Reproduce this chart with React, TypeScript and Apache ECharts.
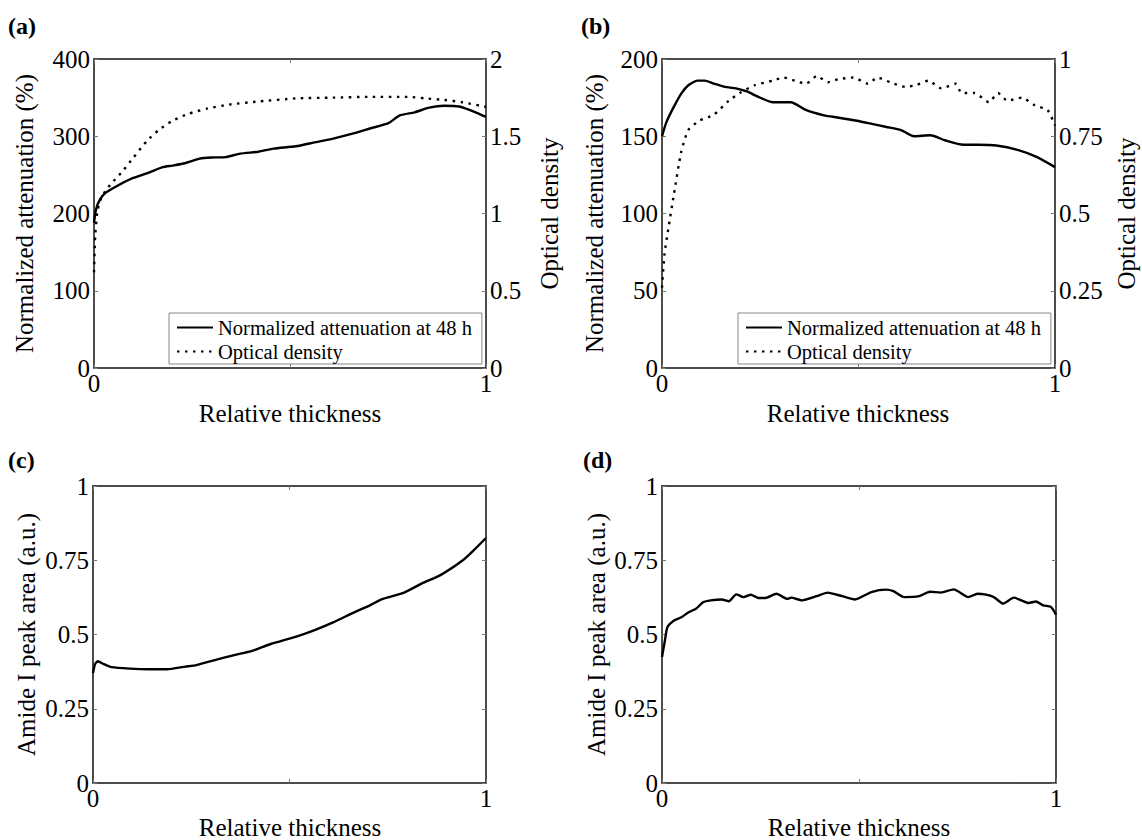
import React, { useEffect, useRef } from "react";
import * as echarts from "echarts";

const FONT = "'Liberation Serif', 'Times New Roman', Times, serif";

// Panel (a)
const aAttX = [0, 0.005, 0.015, 0.03, 0.06, 0.1, 0.14, 0.175, 0.2, 0.232, 0.27, 0.3, 0.336, 0.373, 0.42, 0.458, 0.515, 0.562, 0.61, 0.657, 0.704, 0.751, 0.78, 0.818, 0.855, 0.893, 0.931, 0.969, 1];
const aAtt = [188, 205, 218, 227, 236, 246, 253, 260, 262, 265, 271, 272.5, 273, 277.5, 280, 284, 287, 292, 297, 303, 310, 317, 327, 331, 337, 339.5, 338.5, 332, 325];
const aOdX = [0, 0.003, 0.008, 0.015, 0.03, 0.05, 0.075, 0.1, 0.135, 0.165, 0.2, 0.24, 0.29, 0.345, 0.42, 0.515, 0.61, 0.704, 0.8, 0.846, 0.893, 0.94, 1];
const aOd = [0.62, 0.85, 1.0, 1.08, 1.15, 1.21, 1.28, 1.36, 1.47, 1.54, 1.6, 1.645, 1.68, 1.705, 1.725, 1.745, 1.75, 1.755, 1.755, 1.745, 1.735, 1.72, 1.69];

// Panel (b)
const bAttX = [0, 0.011, 0.03, 0.049, 0.067, 0.09, 0.109, 0.132, 0.16, 0.188, 0.216, 0.244, 0.282, 0.328, 0.366, 0.412, 0.45, 0.496, 0.534, 0.571, 0.608, 0.641, 0.683, 0.72, 0.767, 0.804, 0.851, 0.907, 0.953, 1];
const bAtt = [150, 159, 169, 177.6, 183, 186, 186, 184, 182, 181, 179, 175.6, 172, 172, 167, 163.5, 162, 160, 158, 156, 154, 150, 150.6, 147.4, 144.5, 144.5, 144, 141, 136.6, 130];
const bOdX = [0, 0.0065, 0.016, 0.03, 0.049, 0.067, 0.095, 0.132, 0.17, 0.198, 0.235, 0.282, 0.31, 0.338, 0.366, 0.394, 0.422, 0.45, 0.487, 0.524, 0.548, 0.58, 0.618, 0.646, 0.678, 0.711, 0.748, 0.762, 0.795, 0.832, 0.855, 0.879, 0.916, 0.949, 0.981, 1];
const bOd = [0.26, 0.37, 0.45, 0.56, 0.7, 0.77, 0.8, 0.82, 0.865, 0.89, 0.915, 0.93, 0.94, 0.93, 0.92, 0.945, 0.925, 0.935, 0.94, 0.92, 0.94, 0.925, 0.91, 0.915, 0.93, 0.905, 0.92, 0.89, 0.89, 0.86, 0.89, 0.865, 0.875, 0.85, 0.835, 0.785];

// Panel (c)
const cX = [0, 0.005, 0.012, 0.028, 0.047, 0.094, 0.141, 0.188, 0.235, 0.263, 0.31, 0.357, 0.405, 0.452, 0.517, 0.564, 0.611, 0.659, 0.706, 0.734, 0.79, 0.837, 0.884, 0.941, 0.969, 1];
const cAmide = [0.37, 0.4, 0.41, 0.4, 0.39, 0.385, 0.383, 0.383, 0.392, 0.397, 0.414, 0.43, 0.445, 0.468, 0.493, 0.515, 0.541, 0.571, 0.599, 0.618, 0.64, 0.672, 0.7, 0.75, 0.784, 0.825];

// Panel (d)
const dX = [0, 0.0074, 0.0139, 0.0306, 0.0492, 0.0677, 0.0863, 0.1048, 0.1234, 0.1512, 0.1698, 0.1883, 0.2069, 0.2254, 0.244, 0.2625, 0.2904, 0.3182, 0.3275, 0.3553, 0.3924, 0.4202, 0.4573, 0.4898, 0.5315, 0.5686, 0.5872, 0.615, 0.6521, 0.68, 0.7078, 0.7403, 0.7774, 0.8006, 0.8191, 0.8423, 0.8655, 0.8933, 0.9119, 0.9304, 0.949, 0.9675, 0.987, 1];
const dAmide = [0.424, 0.48, 0.525, 0.547, 0.558, 0.575, 0.587, 0.609, 0.615, 0.618, 0.612, 0.635, 0.626, 0.634, 0.623, 0.623, 0.637, 0.62, 0.624, 0.615, 0.629, 0.641, 0.629, 0.618, 0.643, 0.651, 0.646, 0.626, 0.629, 0.644, 0.641, 0.652, 0.626, 0.637, 0.635, 0.626, 0.604, 0.624, 0.615, 0.606, 0.611, 0.598, 0.593, 0.567];

const ATT_NAME = "Normalized attenuation at 48 h";
const OD_NAME = "Optical density";
const X_TITLE = "Relative thickness";
const Y_ATT = "Normalized attenuation (%)";
const Y_AMIDE = "Amide I peak area (a.u.)";

const pairs = (xs: number[], ys: number[]) => xs.map((x, i) => [x, ys[i]]);

const LINE_COLOR = "#111";
const TICK_COLOR = "#777";
const DOT_DASH = [2.5, 5.5];
const FS = 25;

function xAxisDef(grid: number, top: boolean) {
  return {
    type: "value",
    gridIndex: grid,
    position: top ? "top" : "bottom",
    min: 0,
    max: 1,
    interval: 0.5,
    axisLine: { show: true, onZero: false, lineStyle: { color: LINE_COLOR, width: 1.5 } },
    axisTick: { show: true, inside: true, length: 4, lineStyle: { color: TICK_COLOR, width: 1 } },
    axisLabel: {
      show: !top,
      margin: 3,
      color: "#000",
      fontFamily: FONT,
      fontSize: FS,
      formatter: (v: number) => (v === 0.5 ? "" : String(v)),
    },
    splitLine: { show: false },
  };
}

function yAxisDef(grid: number, right: boolean, max: number, interval: number, labels: boolean) {
  return {
    type: "value",
    gridIndex: grid,
    position: right ? "right" : "left",
    min: 0,
    max,
    interval,
    axisLine: { show: true, onZero: false, lineStyle: { color: LINE_COLOR, width: 1.5 } },
    axisTick: { show: true, inside: true, length: 4, lineStyle: { color: TICK_COLOR, width: 1 } },
    axisLabel: { show: labels, margin: 4, color: "#000", fontFamily: FONT, fontSize: FS },
    splitLine: { show: false },
  };
}

function lineSeries(name: string, xi: number, yi: number, data: number[][], dotted: boolean) {
  return {
    type: "line",
    name,
    xAxisIndex: xi,
    yAxisIndex: yi,
    data,
    symbol: "none",
    smooth: 0.2,
    color: "#000",
    lineStyle: { color: "#000", width: 2.4, type: dotted ? DOT_DASH : "solid" },
  };
}

function legendDef(left: number) {
  return {
    data: [ATT_NAME, OD_NAME],
    orient: "vertical",
    left,
    top: 313,
    itemWidth: 36,
    itemHeight: 14,
    itemGap: 3,
    padding: [4, 10, 2, 7],
    backgroundColor: "#fff",
    borderColor: "#888",
    borderWidth: 1,
    borderRadius: 0,
    itemStyle: { opacity: 0, borderWidth: 0 },
    textStyle: { fontFamily: FONT, fontSize: 20.5, color: "#000" },
    selectedMode: false,
  };
}

function txt(text: string, x: number, y: number, size: number, opts: any = {}) {
  return {
    type: "text",
    x,
    y,
    rotation: opts.rotation || 0,
    style: {
      text,
      fill: "#000",
      fontFamily: FONT,
      fontSize: size,
      fontWeight: opts.bold ? "bold" : "normal",
      textAlign: opts.align || "center",
      textVerticalAlign: "middle",
    },
  };
}

export default function App() {
  const ref = useRef<HTMLDivElement>(null);
  useEffect(() => {
    document.body.style.margin = "0";
    const chart = echarts.init(ref.current!, null, { renderer: "svg" });
    const R = Math.PI / 2;
    chart.setOption({
      animation: false,
      backgroundColor: "#fff",
      grid: [
        { left: 94, top: 59, width: 392, height: 309 },
        { left: 662, top: 59, width: 393, height: 309 },
        { left: 93, top: 486, width: 393, height: 297 },
        { left: 662, top: 486, width: 394, height: 297 },
      ],
      xAxis: [
        xAxisDef(0, false), xAxisDef(0, true),
        xAxisDef(1, false), xAxisDef(1, true),
        xAxisDef(2, false), xAxisDef(2, true),
        xAxisDef(3, false), xAxisDef(3, true),
      ],
      yAxis: [
        yAxisDef(0, false, 400, 100, true), yAxisDef(0, true, 2, 0.5, true),
        yAxisDef(1, false, 200, 50, true), yAxisDef(1, true, 1, 0.25, true),
        yAxisDef(2, false, 1, 0.25, true), yAxisDef(2, true, 1, 0.25, false),
        yAxisDef(3, false, 1, 0.25, true), yAxisDef(3, true, 1, 0.25, false),
      ],
      legend: [legendDef(169), legendDef(738)],
      series: [
        lineSeries(ATT_NAME, 0, 0, pairs(aAttX, aAtt), false),
        lineSeries(OD_NAME, 0, 1, pairs(aOdX, aOd), true),
        lineSeries(ATT_NAME, 2, 2, pairs(bAttX, bAtt), false),
        lineSeries(OD_NAME, 2, 3, pairs(bOdX, bOd), true),
        lineSeries("Amide I (c)", 4, 4, pairs(cX, cAmide), false),
        lineSeries("Amide I (d)", 6, 6, pairs(dX, dAmide), false),
      ],
      graphic: [
        txt("(a)", 8, 26, 24, { bold: true, align: "left" }),
        txt("(b)", 581, 26, 24, { bold: true, align: "left" }),
        txt("(c)", 8, 460, 24, { bold: true, align: "left" }),
        txt("(d)", 583, 460, 24, { bold: true, align: "left" }),
        txt(Y_ATT, 24, 213.5, FS, { rotation: R }),
        txt(OD_NAME, 549, 213.5, FS, { rotation: R }),
        txt(Y_ATT, 594, 213.5, FS, { rotation: R }),
        txt(OD_NAME, 1126, 213.5, FS, { rotation: R }),
        txt(Y_AMIDE, 26, 634.5, FS, { rotation: R }),
        txt(Y_AMIDE, 596, 634.5, FS, { rotation: R }),
        txt(X_TITLE, 290, 413, FS),
        txt(X_TITLE, 858, 413, FS),
        txt(X_TITLE, 290, 827, FS),
        txt(X_TITLE, 859, 827, FS),
      ],
    });
    return () => chart.dispose();
  }, []);
  return <div ref={ref} style={{ width: 1142, height: 840 }} />;
}
